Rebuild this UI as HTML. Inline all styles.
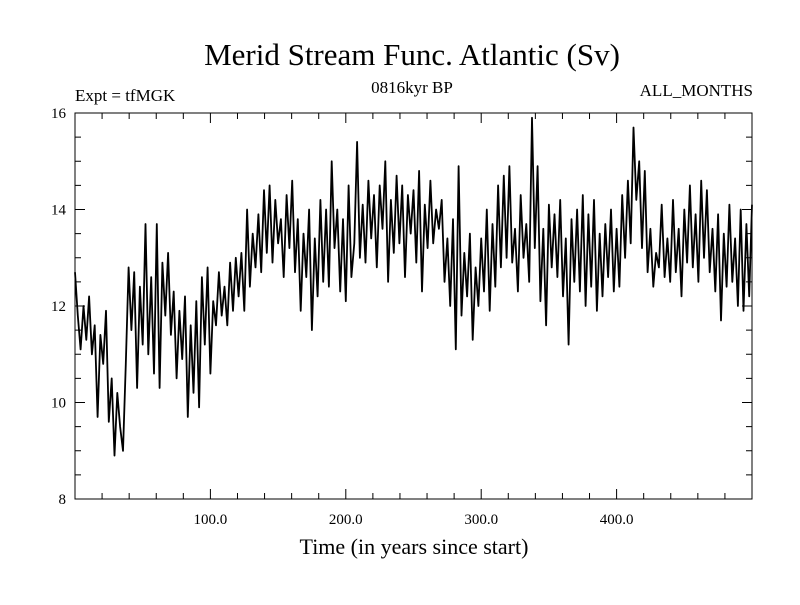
<!DOCTYPE html>
<html><head><meta charset="utf-8"><style>
body{margin:0;background:#fff}
svg text{font-family:"Liberation Serif",serif;fill:#000}
</style></head><body>
<svg width="800" height="600" viewBox="0 0 800 600">
<text x="412" y="65" font-size="31" text-anchor="middle">Merid Stream Func. Atlantic (Sv)</text>
<text x="75" y="101" font-size="17">Expt = tfMGK</text>
<text x="412" y="93" font-size="17" text-anchor="middle">0816kyr BP</text>
<text x="753" y="96" font-size="17" text-anchor="end">ALL_MONTHS</text>
<text x="414" y="554" font-size="22" text-anchor="middle">Time (in years since start)</text>
<g id="axes"></g>
<g id="plot"></g>
</svg>
<script>
const values=[12.7,11.8,11.1,12.0,11.3,12.2,11.0,11.6,9.7,11.4,
10.8,11.9,9.6,10.5,8.9,10.2,9.5,9.0,10.8,12.8,
11.5,12.7,10.3,12.4,11.2,13.7,11.0,12.6,10.6,13.7,
10.3,12.9,11.8,13.1,11.4,12.3,10.5,11.9,10.9,12.2,
9.7,11.6,10.2,12.1,9.9,12.6,11.2,12.8,10.6,12.1,
11.6,12.7,11.8,12.4,11.6,12.9,11.9,13.0,12.2,13.1,
11.9,14.0,12.4,13.5,12.8,13.9,12.7,14.4,13.1,14.5,
12.9,14.2,13.3,13.8,12.6,14.3,13.2,14.6,12.7,13.8,
11.9,13.5,12.6,14.0,11.5,13.4,12.2,14.2,12.5,14.0,
12.4,15.0,13.2,14.0,12.3,13.8,12.1,14.5,12.6,13.3,
15.4,13.0,14.1,12.9,14.6,13.4,14.3,12.8,14.5,13.6,
15.0,12.5,14.2,13.1,14.7,13.3,14.5,12.6,14.3,13.5,
14.4,12.9,14.8,12.3,14.1,13.2,14.6,13.3,14.0,13.6,
14.2,12.5,13.4,12.0,13.8,11.1,14.9,11.8,13.1,12.2,
13.5,11.3,12.8,12.0,13.4,12.3,14.0,11.9,13.7,12.4,
14.5,12.8,14.7,13.0,14.9,12.9,13.6,12.3,14.3,13.0,
13.7,12.5,15.9,13.2,14.9,12.1,13.6,11.6,14.1,12.8,
13.9,12.6,14.2,12.2,13.4,11.2,13.8,12.5,14.0,12.3,
14.3,12.0,13.9,12.4,14.2,11.9,13.5,12.2,13.7,12.6,
14.0,12.3,13.6,12.4,14.3,13.0,14.6,13.3,15.7,14.2,
15.0,13.2,14.8,12.7,13.6,12.4,13.1,12.8,14.1,12.6,
13.4,12.5,14.2,12.7,13.6,12.2,14.0,12.9,14.5,12.8,
13.9,12.5,14.6,13.0,14.4,12.7,13.6,12.3,13.9,11.7,
13.5,12.4,14.1,12.5,13.4,12.0,14.0,11.9,13.7,12.2,
14.1];
const yTicks=[8,10,12,14,16];
const xTicks=[100,200,300,400];
const xTickLabels=["100.0","200.0","300.0","400.0"];
const X0=75,X1=752,Y0=113,Y1=499,TMAX=500,VMIN=8,VMAX=16;
const xs=t=>X0+(t/TMAX)*(X1-X0);
const ys=v=>Y1-(v-VMIN)/(VMAX-VMIN)*(Y1-Y0);
const NS="http://www.w3.org/2000/svg";
const axes=document.getElementById('axes'),plot=document.getElementById('plot');
function mk(tag,attrs,parent){const e=document.createElementNS(NS,tag);for(const k in attrs)e.setAttribute(k,attrs[k]);parent.appendChild(e);return e;}
const frame=mk('rect',{x:X0,y:Y0,width:X1-X0,height:Y1-Y0,fill:'none',stroke:'#000','stroke-width':1},axes);


let d='';
for(let t=0;t<=TMAX;t+=20){const x=xs(t);const L=(t%100===0)?10:6;d+=`M${x},${Y1}v${-L}M${x},${Y0}v${L}`;}
for(let v=VMIN;v<=VMAX;v+=0.5){const y=ys(v);const L=(v%2===0)?10:6;d+=`M${X0},${y}h${L}M${X1},${y}h${-L}`;}
const tk=mk('path',{d:d,stroke:'#000','stroke-width':1,fill:'none'},axes);


yTicks.forEach(v=>{const t=mk('text',{x:66,y:ys(v)+5,'font-size':15,'text-anchor':'end'},axes);t.textContent=v;

});
xTicks.forEach((v,i)=>{const t=mk('text',{x:xs(v),y:524,'font-size':15,'text-anchor':'middle'},axes);t.textContent=xTickLabels[i];

});
const n=values.length;
const pts=values.map((v,i)=>xs(i*TMAX/(n-1)).toFixed(1)+','+ys(v).toFixed(1)).join(' ');
const line=mk('polyline',{points:pts,fill:'none',stroke:'#000','stroke-width':1.8,'stroke-linejoin':'round'},plot);


</script>
</body></html>
